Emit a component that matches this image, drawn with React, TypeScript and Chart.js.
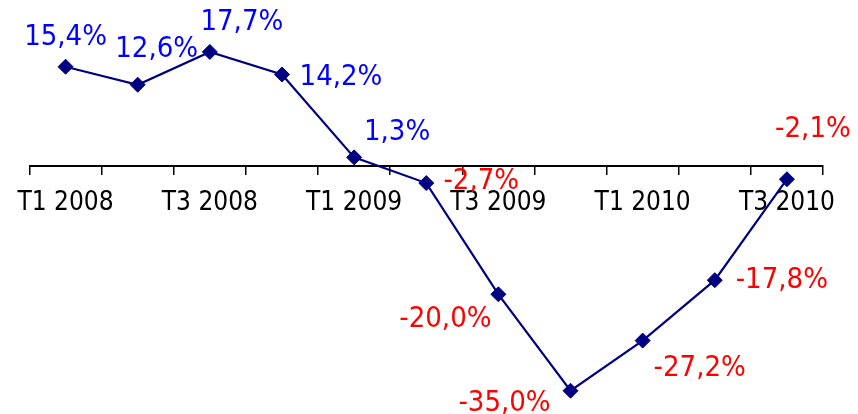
import React, { useEffect, useRef } from "react";
import { Chart, registerables } from "chart.js";

Chart.register(...registerables);

const categories = [
  "T1 2008", "T2 2008", "T3 2008", "T4 2008",
  "T1 2009", "T2 2009", "T3 2009", "T4 2009",
  "T1 2010", "T2 2010", "T3 2010",
];
const growth = [15.4, 12.6, 17.7, 14.2, 1.3, -2.7, -20.0, -35.0, -27.2, -17.8, -2.1];
const valueLabels = ["15,4%", "12,6%", "17,7%", "14,2%", "1,3%", "-2,7%", "-20,0%", "-35,0%", "-27,2%", "-17,8%", "-2,1%"];
// label placement relative to each point (layout only)
const labelOffsets: [number, number][] = [
  [0, -29], [19, -35], [32, -29], [59, 3], [43, -25], [55, -2],
  [-53, 25], [-66, 13], [57, 28], [67, 0], [26, -50],
];

const FONT = "'DejaVu Sans Condensed', 'DejaVu Sans', sans-serif";

const labelPlugin = {
  id: "valueLabels",
  afterDraw(chart: any) {
    const ctx = chart.ctx;
    const meta = chart.getDatasetMeta(0);
    ctx.save();
    ctx.font = `29px ${FONT}`;
    ctx.textAlign = "center";
    ctx.textBaseline = "middle";
    meta.data.forEach((pt: any, i: number) => {
      const [dx, dy] = labelOffsets[i];
      ctx.fillStyle = growth[i] >= 0 ? "#0000FF" : "#FF0000";
      ctx.fillText(valueLabels[i], pt.x + dx, pt.y + dy);
    });
    ctx.restore();
  },
};

export default function App() {
  const ref = useRef<HTMLCanvasElement>(null);
  useEffect(() => {
    if (!ref.current) return;
    const chart = new Chart(ref.current, {
      type: "line",
      data: {
        labels: categories,
        datasets: [
          {
            data: growth,
            borderColor: "#000080",
            backgroundColor: "#000080",
            borderWidth: 2.2,
            pointStyle: "rectRot",
            pointRadius: 7.5,
            pointBackgroundColor: "#000080",
            pointBorderColor: "#000080",
            pointBorderWidth: 1,
            tension: 0,
          },
        ],
      },
      options: {
        animation: false,
        responsive: false,
        layout: { autoPadding: false, padding: { left: 29.5, right: 35, top: 5, bottom: 10.4 } },
        plugins: { legend: { display: false }, tooltip: { enabled: false } },
        scales: {
          x: {
            type: "category",
            position: { y: 0 } as any,
            offset: true,
            grid: {
              display: true,
              drawOnChartArea: false,
              drawTicks: true,
              tickLength: 8,
              color: "#000",
              lineWidth: 1.5,
              offset: true,
            },
            border: { display: true, color: "#000", width: 2 },
            ticks: {
              autoSkip: false,
              maxRotation: 0,
              padding: 14,
              color: "#000",
              font: { size: 26, family: FONT },
              callback: (_v: any, i: number) => (i % 2 === 0 ? categories[i] : ""),
            },
          },
          y: {
            display: false,
            min: -37,
            max: 25,
          },
        },
      },
      plugins: [labelPlugin],
    });
    return () => chart.destroy();
  }, []);
  return (
    <div style={{ position: "fixed", left: 0, top: 0, width: 858, height: 414, background: "#fff" }}>
      <canvas ref={ref} width={858} height={414} style={{ width: 858, height: 414, display: "block" }} />
    </div>
  );
}
